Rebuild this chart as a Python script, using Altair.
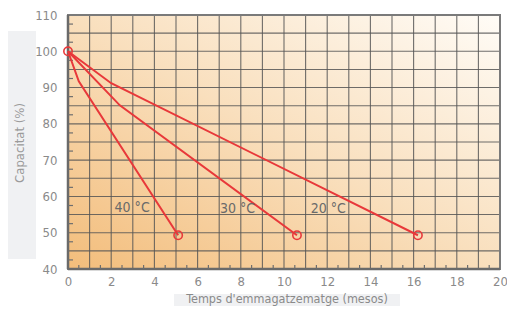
import altair as alt
import pandas as pd

# ---- data ----
series = ["40 °C", "30 °C", "20 °C"]
x_40 = [0, 0.5, 5.1]
y_40 = [100, 91.7, 49.3]
x_30 = [0, 2.4, 10.6]
y_30 = [100, 85.1, 49.3]
x_20 = [0, 2.0, 16.2]
y_20 = [100, 91.2, 49.3]

label_x = [2.97, 7.85, 12.05]
label_y = [56.8, 56.6, 56.6]

x_grid = list(range(0, 21))
y_grid = list(range(40, 111, 5))
x_ticklabels = list(range(0, 21, 2))
y_ticklabels = list(range(40, 111, 10))
x_minor = [i + 0.5 for i in range(0, 20)]
y_minor = [40 + 2.5 + 5 * i for i in range(0, 14)]

x_title = "Temps d'emmagatzematge (mesos)"
y_title = "Capacitat (%)"

FONT = "Liberation Sans Narrow, DejaVu Sans Condensed, Liberation Sans"
W, H = 432, 254
RED = "#e8383a"

rows = []
for name, xs_, ys_ in zip(series, [x_40, x_30, x_20], [y_40, y_30, y_20]):
    for i, (xv, yv) in enumerate(zip(xs_, ys_)):
        rows.append({"serie": name, "x": xv, "y": yv, "ord": i,
                     "end": i == 0 or i == len(xs_) - 1})
df = pd.DataFrame(rows)
pts = df[df["end"]].drop_duplicates(subset=["x", "y"])
labels = pd.DataFrame({"t": series, "x": label_x, "y": label_y})

xs = alt.Scale(domain=[0, 20], nice=False, zero=False)
ys = alt.Scale(domain=[40, 110], nice=False, zero=False)

xaxis = alt.Axis(values=x_ticklabels, title=None, grid=False, ticks=False, domain=False,
                 labelOverlap=False, labelColor="#8a8a8a", labelFont=FONT, labelFontSize=13,
                 labelPadding=6, labelFlush=False)
yaxis = alt.Axis(values=y_ticklabels, title=None, grid=False, ticks=False, domain=False,
                 labelOverlap=False, labelColor="#8a8a8a", labelFont=FONT, labelFontSize=13,
                 labelPadding=11, labelFlush=False)

X = lambda: alt.X("x:Q", scale=xs, axis=xaxis)
Y = lambda: alt.Y("y:Q", scale=ys, axis=yaxis)

grad = alt.LinearGradient(
    gradient="linear",
    stops=[alt.GradientStop(color="#f3bd7b", offset=0),
           alt.GradientStop(color="#f9dfbd", offset=0.5),
           alt.GradientStop(color="#fffcf7", offset=1)],
    x1=0, y1=1, x2=1, y2=0)

one = pd.DataFrame({"k": [0]})

bg = alt.Chart(one).mark_rect(color=grad).encode(
    x=alt.value(0), x2=alt.value(W), y=alt.value(0), y2=alt.value(H))

vgrid = alt.Chart(pd.DataFrame({"x": x_grid})).mark_rule(
    color="#555555", strokeWidth=1.1, opacity=0.85).encode(
    x=X(), y=alt.value(0), y2=alt.value(H))
hgrid = alt.Chart(pd.DataFrame({"y": y_grid})).mark_rule(
    color="#555555", strokeWidth=1.1, opacity=0.85).encode(
    y=Y(), x=alt.value(0), x2=alt.value(W))

frame = alt.Chart(one).mark_rect(fill=None, stroke="#7a7a7a", strokeWidth=2).encode(
    x=alt.value(0), x2=alt.value(W), y=alt.value(0), y2=alt.value(H))
left_axis = alt.Chart(one).mark_rule(color="#6a6a6a", strokeWidth=2.5).encode(
    x=alt.value(0), y=alt.value(0), y2=alt.value(H))
bottom_axis = alt.Chart(one).mark_rule(color="#6a6a6a", strokeWidth=2.5).encode(
    y=alt.value(H), x=alt.value(0), x2=alt.value(W))

xminor = alt.Chart(pd.DataFrame({"x": x_minor})).mark_rule(color="#6e6e6e", strokeWidth=1.2).encode(
    x=X(), y=alt.value(H), y2=alt.value(H - 4))
yminor = alt.Chart(pd.DataFrame({"y": y_minor})).mark_rule(color="#6e6e6e", strokeWidth=1.2).encode(
    y=Y(), x=alt.value(0), x2=alt.value(5))

lines = alt.Chart(df).mark_line(color=RED, strokeWidth=2).encode(
    x=X(), y=Y(), detail="serie:N", order="ord:Q")

points = alt.Chart(pts).mark_point(shape="circle", filled=False, color=RED,
                                   size=70, strokeWidth=1.6, opacity=1).encode(
    x=X(), y=Y())

txt = alt.Chart(labels).mark_text(font=FONT, fontSize=14, color="#6a6a6a").encode(
    x=X(), y=Y(), text="t:N")

# title boxes
box_x1 = [-63, 106]
box_x2 = [-32, 332]
box_y1 = [16, 279]
box_y2 = [244, 295]
box_layers = []
for a, b, c, d in zip(box_x1, box_x2, box_y1, box_y2):
    box_layers.append(
        alt.Chart(one).mark_rect(color="#f0f1f3").encode(
            x=alt.value(a), x2=alt.value(b), y=alt.value(c), y2=alt.value(d)))

ytitle = alt.Chart(pd.DataFrame({"t": [y_title]})).mark_text(
    font=FONT, fontSize=13, color="#9a9a9a", angle=270).encode(
    x=alt.value(-48), y=alt.value(128), text="t:N")
xtitle = alt.Chart(pd.DataFrame({"t": [x_title]})).mark_text(
    font=FONT, fontSize=12.5, color="#8a8a8a").encode(
    x=alt.value(219), y=alt.value(284), text="t:N")

chart = alt.layer(bg, vgrid, hgrid, *box_layers, ytitle, xtitle, frame, left_axis,
                  bottom_axis, xminor, yminor, lines, points, txt).properties(
    width=W, height=H,
    autosize=alt.AutoSizeParams(type="none"),
    padding={"left": 60, "top": 7, "right": 7, "bottom": 37},
).configure_view(stroke=None).configure(background="white")

chart.save("out.html", embed_options={"renderer": "svg", "actions": False})
